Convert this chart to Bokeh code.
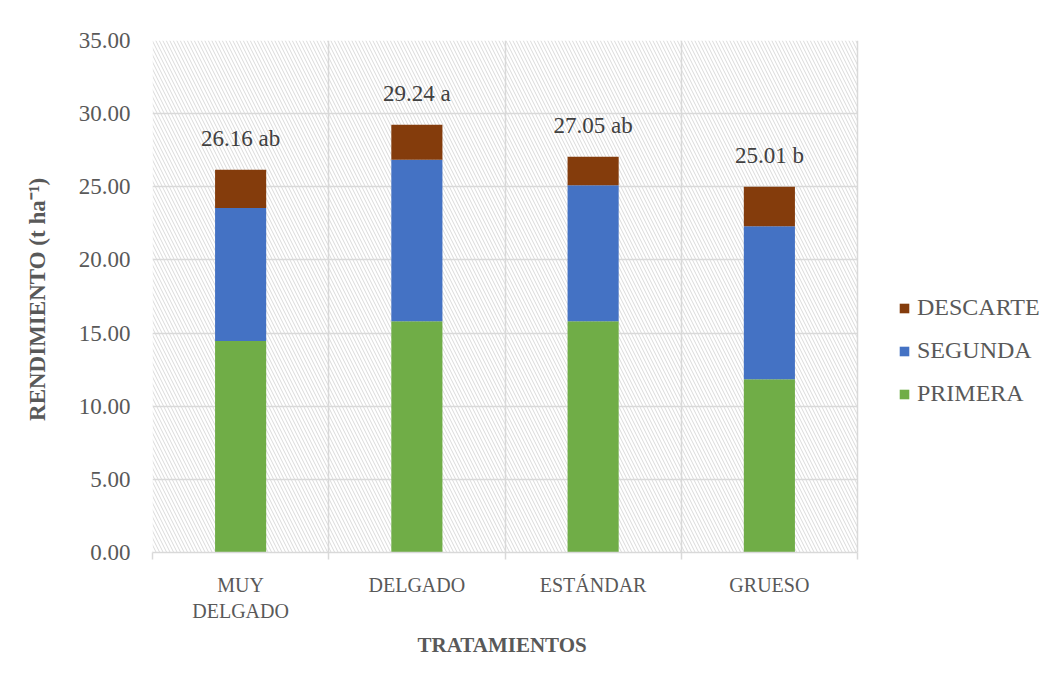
from bokeh.plotting import figure
from bokeh.models import (FixedTicker, NumeralTickFormatter, BoxAnnotation,
                          Legend, LegendItem, ColumnDataSource, Range1d, Title)
from bokeh.core.properties import value
from bokeh.embed import file_html
from bokeh.resources import INLINE

# ---- data ----
categories = ["MUY\nDELGADO", "DELGADO", "ESTÁNDAR", "GRUESO"]
primera = [14.45, 15.80, 15.80, 11.85]
segunda = [9.10, 11.05, 9.30, 10.45]
descarte = [2.61, 2.39, 1.95, 2.71]
totals = [26.16, 29.24, 27.05, 25.01]
letters = ["ab", "a", "ab", "b"]
series = ["PRIMERA", "SEGUNDA", "DESCARTE"]
colors = ["#70AD47", "#4472C4", "#843C0C"]
y_ticks = [0, 5, 10, 15, 20, 25, 30, 35]

FONT = "Liberation Serif"
GREY = "#595959"
GRID = "#d9d9d9"

# layout constants (pixels)
LEFT = 152
PLOT_W = 705      # width of the hatched plot area
FRAME_W = 898     # frame also hosts the legend on its right
n = len(categories)
centers = [i + 0.5 for i in range(n)]
bounds = list(range(n + 1))

src = ColumnDataSource(dict(x=centers, PRIMERA=primera, SEGUNDA=segunda,
                            DESCARTE=descarte))

p = figure(x_range=Range1d(0, n * FRAME_W / PLOT_W), y_range=Range1d(0, 35),
           frame_width=FRAME_W, frame_height=512,
           output_backend="svg", toolbar_location=None,
           min_border_left=LEFT, min_border_right=0, min_border_top=40,
           min_border_bottom=115)
p.outline_line_color = None
p.background_fill_color = "white"
p.border_fill_color = "white"

# hatched plot-area background (only over the category area)
bg = BoxAnnotation(left=0, right=n, fill_alpha=0, line_color=None,
                   hatch_pattern="left_diagonal_line",
                   hatch_color="#dadada", hatch_scale=7, hatch_weight=1, level="image")
p.add_layout(bg)

# grids
p.xgrid.ticker = FixedTicker(ticks=bounds)
p.xgrid.grid_line_color = GRID
p.xgrid.grid_line_width = 1.5
try:
    p.ygrid.cross_bounds = (0, n)
    p.ygrid.ticker = FixedTicker(ticks=y_ticks)
    p.ygrid.grid_line_color = GRID
    p.ygrid.grid_line_width = 1.5
except Exception:
    p.ygrid.grid_line_color = None
    p.segment(x0=[0] * len(y_ticks), x1=[n] * len(y_ticks), y0=y_ticks, y1=y_ticks,
              line_color=GRID, line_width=1.5, level="underlay")

renderers = p.vbar_stack(series, x="x", width=0.29, color=colors, source=src,
                         line_color=None)

# labels above bars
lab_src = ColumnDataSource(dict(x=centers, y=totals,
                                txt=[f"{t:.2f} {l}" for t, l in zip(totals, letters)]))
p.text(x="x", y="y", text="txt", source=lab_src, y_offset=-31,
       text_align="center", text_baseline="middle",
       text_font=value("'Liberation Serif', 'Times New Roman', serif"),
       text_font_size="23px", text_color="#404040")

# axes
p.yaxis.ticker = FixedTicker(ticks=y_ticks)
p.yaxis.formatter = NumeralTickFormatter(format="0.00")
p.yaxis.axis_line_color = None
p.yaxis.major_tick_line_color = None
p.yaxis.minor_tick_line_color = None
p.yaxis.major_label_standoff = 16
p.yaxis.major_label_text_font = FONT
p.yaxis.major_label_text_font_size = "23px"
p.yaxis.major_label_text_color = GREY
p.yaxis.axis_label = "RENDIMIENTO  (t ha\u207B\u00B9)"
p.yaxis.axis_label_text_font = FONT
p.yaxis.axis_label_text_font_style = "bold"
p.yaxis.axis_label_text_font_size = "23px"
p.yaxis.axis_label_text_color = GREY
p.yaxis.axis_label_standoff = 26

p.xaxis.ticker = FixedTicker(ticks=centers, minor_ticks=bounds)
p.xaxis.major_label_overrides = {c: cat for c, cat in zip(centers, categories)}
p.xaxis.bounds = (0, n)
p.xaxis.axis_line_color = GRID
p.xaxis.axis_line_width = 1.5
p.xaxis.major_tick_line_color = None
p.xaxis.minor_tick_line_color = GRID
p.xaxis.minor_tick_line_width = 1.5
p.xaxis.minor_tick_in = 0
p.xaxis.minor_tick_out = 7
p.xaxis.major_label_standoff = 14
p.xaxis.major_label_text_font = FONT
p.xaxis.major_label_text_font_size = "20px"
p.xaxis.major_label_text_color = GREY

# x-axis title, centred under the category area (not the whole frame)
x_title_text = "TRATAMIENTOS"
x_title = Title(text=x_title_text, align="left", offset=265, standoff=12,
                text_font=FONT, text_font_style="bold", text_font_size="21px",
                text_color=GREY)
p.add_layout(x_title, "below")

legend = Legend(items=[LegendItem(label=s, renderers=[r]) for s, r in
                       reversed(list(zip(series, renderers)))],
                location=(746, 145), padding=0, margin=0, spacing=16,
                glyph_width=12, glyph_height=12, label_height=20, label_standoff=7,
                label_text_font=FONT, label_text_font_size="24px",
                label_text_color=GREY, border_line_color=None,
                background_fill_alpha=0)
p.add_layout(legend, "center")

open("out.html", "w").write(file_html(p, INLINE))
